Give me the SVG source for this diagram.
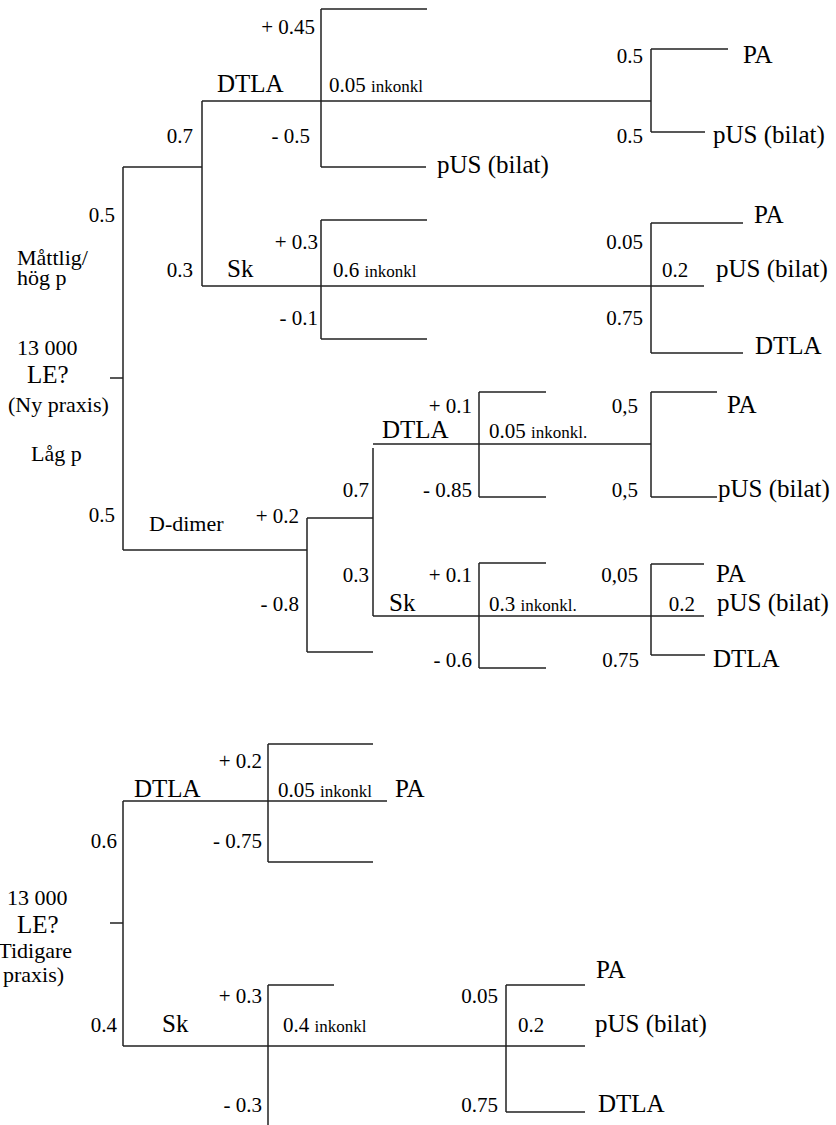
<svg xmlns="http://www.w3.org/2000/svg" width="836" height="1125" viewBox="0 0 836 1125" font-family="Liberation Serif, Times New Roman, DejaVu Serif, serif">
<style>
text{fill:#000}
.n{font-size:21px}
.l{font-size:25px}
.s{font-size:22px}
.e{text-anchor:end}
.k{font-size:17px}
#connectors path{fill:none;stroke:#222;stroke-width:1.5}
</style>
<rect width="836" height="1125" fill="#fff"/>
<g id="connectors">
<path d="M110 378H123M123 167V550M123 167H202M202 101V286"/>
<path d="M202 101H651M321 9V167M321 9H427M321 167H426"/>
<path d="M651 49V132M651 49H728M651 132H705"/>
<path d="M202 286H651M321 220V339M321 220H427M321 339H427"/>
<path d="M651 223V353M651 223H743M651 286H704M651 353H743"/>
<path d="M123 550H307M307 518V652M307 518H373M307 652H373"/>
<path d="M373 448V616M373 444H651M373 616H704"/>
<path d="M479 392V497M479 392H546M479 497H546"/>
<path d="M651 392V497M651 392H717M651 497H717"/>
<path d="M479 563V668M479 563H546M479 668H546"/>
<path d="M651 564V655M651 564H704M651 655H705"/>
<path d="M110 923H123M123 801V1046M123 801H387M268 744V862M268 744H373M268 862H373"/>
<path d="M123 1046H585M268 985V1125M268 985H334"/>
<path d="M506 985V1112M506 985H585M506 1112H585"/>
</g>
<g id="root1">
<text class="s" x="17" y="355">13 000</text>
<text class="l" x="27" y="383">LE?</text>
<text class="s" x="8" y="412">(Ny praxis)</text>
<text class="s" x="17" y="265">Måttlig/</text>
<text class="s" x="17" y="285">hög p</text>
<text class="n e" x="115" y="222">0.5</text>
<text class="s" x="31" y="461">Låg p</text>
<text class="n e" x="115" y="522">0.5</text>
</g>
<g id="node-dtla1">
<text class="n e" x="193" y="143">0.7</text>
<text class="l" x="217" y="92">DTLA</text>
</g>
<g id="node-dtla1-result">
<text class="n e" x="315" y="34">+ 0.45</text>
<text class="n" x="329" y="92">0.05 <tspan class="k">inkonkl</tspan></text>
<text class="n e" x="310" y="143">- 0.5</text>
<text class="l" x="437" y="173">pUS (bilat)</text>
</g>
<g id="node-dtla1-inkonkl">
<text class="n e" x="643" y="63">0.5</text>
<text class="l" x="743" y="63">PA</text>
<text class="n e" x="643" y="143">0.5</text>
<text class="l" x="713" y="143">pUS (bilat)</text>
</g>
<g id="node-sk1">
<text class="n e" x="193" y="277">0.3</text>
<text class="l" x="227" y="277">Sk</text>
</g>
<g id="node-sk1-result">
<text class="n e" x="318" y="249">+ 0.3</text>
<text class="n" x="333" y="277">0.6 <tspan class="k">inkonkl</tspan></text>
<text class="n e" x="318" y="325">-  0.1</text>
</g>
<g id="node-sk1-inkonkl">
<text class="n e" x="643" y="249">0.05</text>
<text class="l" x="754" y="223">PA</text>
<text class="n" x="662" y="277">0.2</text>
<text class="l" x="716" y="277">pUS (bilat)</text>
<text class="n e" x="643" y="325">0.75</text>
<text class="l" x="755" y="354">DTLA</text>
</g>
<g id="node-ddimer">
<text class="s" x="149" y="531">D-dimer</text>
<text class="n e" x="299" y="523">+ 0.2</text>
<text class="n e" x="299" y="611">- 0.8</text>
</g>
<g id="node-dtla2">
<text class="n e" x="369" y="497">0.7</text>
<text class="l" x="382" y="438">DTLA</text>
<text class="n e" x="472" y="413">+ 0.1</text>
<text class="n" x="489" y="438">0.05 <tspan class="k">inkonkl.</tspan></text>
<text class="n e" x="472" y="497">- 0.85</text>
</g>
<g id="node-dtla2-inkonkl">
<text class="n e" x="638" y="413">0,5</text>
<text class="l" x="727" y="413">PA</text>
<text class="n e" x="638" y="497">0,5</text>
<text class="l" x="718" y="497">pUS (bilat)</text>
</g>
<g id="node-sk2">
<text class="n e" x="369" y="582">0.3</text>
<text class="l" x="389" y="611">Sk</text>
<text class="n e" x="472" y="582">+ 0.1</text>
<text class="n" x="489" y="611">0.3 <tspan class="k">inkonkl.</tspan></text>
<text class="n e" x="472" y="667">- 0.6</text>
</g>
<g id="node-sk2-inkonkl">
<text class="n e" x="638" y="582">0,05</text>
<text class="l" x="716" y="582">PA</text>
<text class="n e" x="695" y="611">0.2</text>
<text class="l" x="717" y="611">pUS (bilat)</text>
<text class="n e" x="639" y="667">0.75</text>
<text class="l" x="713" y="667">DTLA</text>
</g>
<g id="root2">
<text class="s" x="7" y="905">13 000</text>
<text class="l" x="17" y="933">LE?</text>
<text class="s e" x="72" y="958">(Tidigare</text>
<text class="s" x="3" y="982">praxis)</text>
<text class="n e" x="117" y="848">0.6</text>
<text class="n e" x="117" y="1032">0.4</text>
</g>
<g id="node-dtla3">
<text class="l" x="134" y="797">DTLA</text>
<text class="n e" x="262" y="768">+ 0.2</text>
<text class="n" x="278" y="797">0.05 <tspan class="k">inkonkl</tspan></text>
<text class="l" x="395" y="797">PA</text>
<text class="n e" x="262" y="848">- 0.75</text>
</g>
<g id="node-sk3">
<text class="l" x="162" y="1032">Sk</text>
<text class="n e" x="262" y="1003">+ 0.3</text>
<text class="n" x="283" y="1032">0.4 <tspan class="k">inkonkl</tspan></text>
<text class="n e" x="262" y="1112">- 0.3</text>
</g>
<g id="node-sk3-inkonkl">
<text class="n e" x="498" y="1003">0.05</text>
<text class="l" x="596" y="978">PA</text>
<text class="n" x="518" y="1032">0.2</text>
<text class="l" x="595" y="1032">pUS (bilat)</text>
<text class="n e" x="498" y="1112">0.75</text>
<text class="l" x="598" y="1112">DTLA</text>
</g>
</svg>
